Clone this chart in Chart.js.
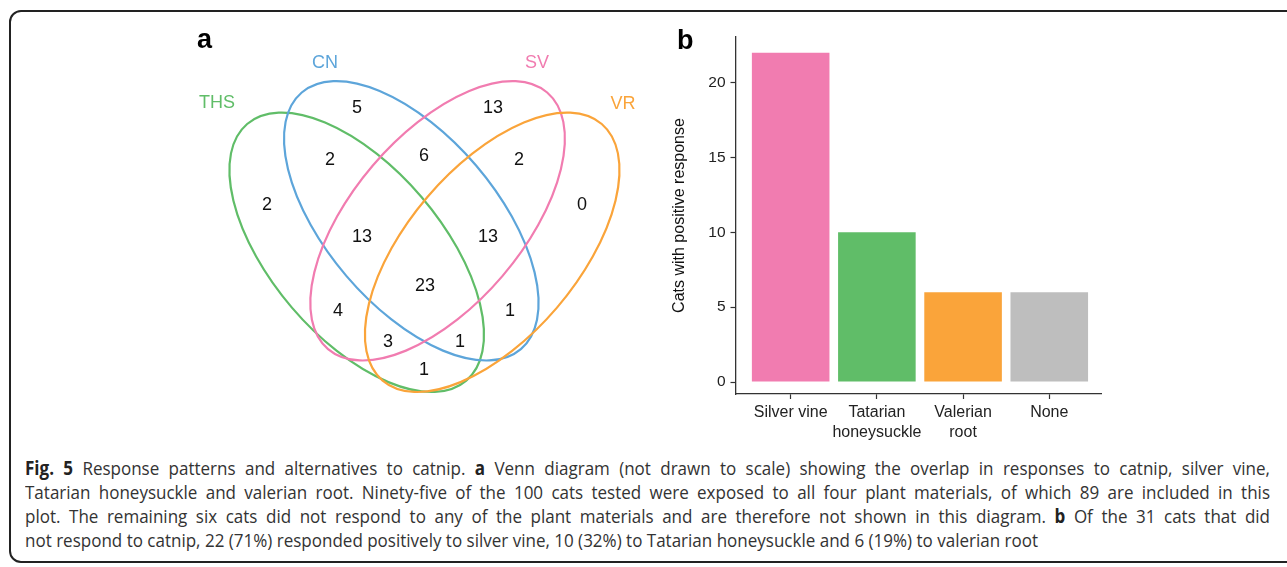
<!DOCTYPE html>
<html>
<head>
<meta charset="utf-8">
<script src="https://cdn.jsdelivr.net/npm/chart.js@4.4.1/dist/chart.umd.min.js"></script>
<style>
  html, body { margin: 0; padding: 0; background: #fff; }
  #page { position: relative; width: 1287px; height: 567px; overflow: hidden; background: #fff; }
  .frame { position: absolute; left: 9px; top: 10px; width: 1310px; height: 553px; border: 2px solid #222; border-radius: 12px; box-sizing: border-box; }
  .panel { position: absolute; font-family: 'Liberation Sans', Arial, sans-serif; font-weight: bold; font-size: 27px; line-height: 27px; color: #000; }
  canvas { position: absolute; }
  .cap { position: absolute; left: 25px; height: 24px; line-height: 24px; font-family: 'Open Sans', sans-serif; font-size: 19px; color: #333; white-space: nowrap; transform-origin: 0 50%; }
  .cap b { font-weight: 700; color: #222; }
</style>
</head>
<body>
<div id="page">
  <div class="frame"></div>
  <canvas id="venn" width="660" height="420" style="left:0;top:0"></canvas>
  <canvas id="bars" width="450" height="430" style="left:660px;top:20px"></canvas>
  <div class="panel" style="left:197px;top:26px">a</div>
  <div class="panel" style="left:677px;top:27px">b</div>
  <div class="cap" id="cap1" style="top:456px"><b>Fig. 5</b> Response patterns and alternatives to catnip. <b>a</b> Venn diagram (not drawn to scale) showing the overlap in responses to catnip, silver vine,</div>
  <div class="cap" id="cap2" style="top:480px">Tatarian honeysuckle and valerian root. Ninety-five of the 100 cats tested were exposed to all four plant materials, of which 89 are included in this</div>
  <div class="cap" id="cap3" style="top:504px">plot. The remaining six cats did not respond to any of the plant materials and are therefore not shown in this diagram. <b>b</b> Of the 31 cats that did</div>
  <div class="cap" id="cap4" style="top:528px"><span>not respond to catnip, 22 (71%) responded positively to silver vine, 10 (32%) to Tatarian honeysuckle and 6 (19%) to valerian root</span></div>
</div>
<script>
// venn data
const setNames = ['THS', 'CN', 'SV', 'VR']
const setColours = ['#60BD68', '#5DA5DA', '#F17CB0', '#FAA43A']
const regionNames = ['THS', 'CN', 'SV', 'VR', 'THS+CN', 'CN+SV', 'SV+VR', 'THS+CN+SV', 'CN+SV+VR', 'ALL', 'THS+SV', 'CN+VR', 'THS+SV+VR', 'THS+CN+VR', 'THS+VR']
const regionCounts = [2, 5, 13, 0, 2, 6, 2, 13, 13, 23, 4, 1, 3, 1, 1]

// bar data
const barCategories = ['Silver vine', ['Tatarian', 'honeysuckle'], ['Valerian', 'root'], 'None']
const barValues = [22, 10, 6, 6]
const barColours = ['#F17CB0', '#60BD68', '#FAA43A', '#BEBEBE']
const yTicks = [0, 5, 10, 15, 20]

// venn layout (page pixels, not data)
const ellipses = [
  { x: 356.7, y: 252.3, rx: 168.7, ry: 85.2, rot: 49.5 },
  { x: 411.3, y: 220.8, rx: 168.7, ry: 85.2, rot: 49.5 },
  { x: 437.6, y: 220.8, rx: 168.7, ry: 85.2, rot: -49.5 },
  { x: 492.2, y: 252.3, rx: 168.7, ry: 85.2, rot: -49.5 }
]
const setLabelPos = [[217, 103], [325, 63], [537, 63], [623, 104]]
const regionPos = [[267, 205], [357, 108], [493, 108], [582, 205], [330, 160], [424, 156], [519, 160], [362, 237], [488, 237], [425, 286], [338, 311], [510, 311], [388, 342], [460, 342], [424, 370]]

const sans = "'Liberation Sans', Arial, sans-serif"

const vennPlugin = {
  id: 'vennDraw',
  beforeDatasetsDraw (chart) {
    const { ctx } = chart
    const xs = chart.scales.x
    const ys = chart.scales.y
    ctx.save()
    ellipses.forEach((e, i) => {
      const px = xs.getPixelForValue(e.x)
      const py = ys.getPixelForValue(e.y)
      const rx = Math.abs(xs.getPixelForValue(e.x + e.rx) - px)
      const ry = Math.abs(ys.getPixelForValue(e.y + e.ry) - py)
      ctx.beginPath()
      ctx.ellipse(px, py, rx, ry, e.rot * Math.PI / 180, 0, Math.PI * 2)
      ctx.strokeStyle = setColours[i]
      ctx.lineWidth = 2.2
      ctx.stroke()
    })
    ctx.restore()
  },
  afterDatasetsDraw (chart) {
    const { ctx } = chart
    ctx.save()
    ctx.textAlign = 'center'
    ctx.textBaseline = 'middle'
    ctx.font = '18px ' + sans
    chart.getDatasetMeta(0).data.forEach((pt, i) => {
      ctx.fillStyle = '#111'
      ctx.fillText(String(regionCounts[i]), pt.x, pt.y)
    })
    chart.getDatasetMeta(1).data.forEach((pt, i) => {
      ctx.fillStyle = setColours[i]
      ctx.fillText(setNames[i], pt.x, pt.y)
    })
    ctx.restore()
  }
}

new Chart(document.getElementById('venn'), {
  type: 'scatter',
  data: {
    datasets: [
      { label: 'regions', data: regionPos.map(p => ({ x: p[0], y: p[1] })), pointRadius: 0 },
      { label: 'sets', data: setLabelPos.map(p => ({ x: p[0], y: p[1] })), pointRadius: 0 }
    ]
  },
  options: {
    responsive: false,
    animation: false,
    layout: { padding: 0 },
    plugins: { legend: { display: false }, tooltip: { enabled: false } },
    scales: {
      x: { type: 'linear', min: 0, max: 660, display: false },
      y: { type: 'linear', min: 0, max: 420, reverse: true, display: false }
    }
  },
  plugins: [vennPlugin]
})

new Chart(document.getElementById('bars'), {
  type: 'bar',
  data: {
    datasets: [{
      label: 'Cats with positive response',
      data: barValues.map((v, i) => ({ x: i + 1, y: v })),
      backgroundColor: barColours,
      borderWidth: 0,
      categoryPercentage: 1,
      barPercentage: 0.9
    }]
  },
  options: {
    responsive: false,
    animation: false,
    layout: { padding: { top: 17, right: 9, left: 0, bottom: 0 } },
    plugins: { legend: { display: false }, tooltip: { enabled: false } },
    scales: {
      x: {
        type: 'linear',
        min: 0.36,
        max: 4.6,
        offset: false,
        afterBuildTicks: s => { s.ticks = barCategories.map((c, i) => ({ value: i + 1 })) },
        afterFit: s => { s.height = 56 },
        ticks: {
          autoSkip: false,
          maxRotation: 0,
          padding: 4,
          color: '#222',
          font: { family: sans, size: 16, lineHeight: 1.25 },
          callback: v => barCategories[Math.round(v) - 1]
        },
        grid: { offset: false, drawOnChartArea: false, tickLength: 5, color: '#333', tickWidth: 1.2 },
        border: { display: true, color: '#333', width: 1.3 }
      },
      y: {
        min: -0.8,
        max: 23.05,
        afterBuildTicks: s => { s.ticks = yTicks.map(v => ({ value: v })) },
        afterFit: s => { s.width = 75.5 },
        ticks: {
          padding: 5,
          color: '#222',
          font: { family: sans, size: 15.5 }
        },
        title: {
          display: true,
          text: 'Cats with positive response',
          color: '#111',
          font: { family: sans, size: 16 },
          padding: { top: 10, bottom: 0 }
        },
        grid: { drawOnChartArea: false, tickLength: 5, color: '#333', tickWidth: 1.2 },
        border: { display: true, color: '#333', width: 1.3 }
      }
    }
  }
})

// caption: squeeze the font to the width of the original lines
const capLeft = 25
const last = document.querySelector('#cap4 span')
const scale = (1038 - capLeft) / last.getBoundingClientRect().width
document.getElementById('cap4').style.transform = `scaleX(${scale})`
;['cap1', 'cap2', 'cap3'].forEach(id => {
  const el = document.getElementById(id)
  el.style.width = ((1270 - capLeft) / scale) + 'px'
  el.style.whiteSpace = 'normal'
  el.style.textAlign = 'justify'
  el.style.textAlignLast = 'justify'
  el.style.transform = `scaleX(${scale})`
})
</script>
</body>
</html>
